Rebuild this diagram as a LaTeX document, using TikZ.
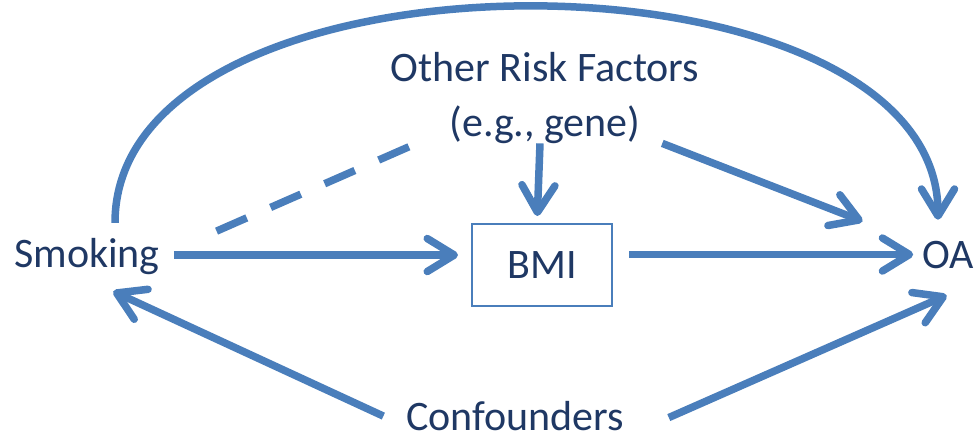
\documentclass[tikz,border=0pt]{standalone}
\usepackage{fontspec}
\setmainfont{Carlito}
\usetikzlibrary{arrows.meta}
\definecolor{arrblue}{HTML}{4A7EBB}
\definecolor{txtblue}{HTML}{1F3864}

\begin{document}
\begin{tikzpicture}[x=1pt,y=-1pt]
\tikzset{ >={Straight Barb[length=27pt,width=33pt,round]},
  lbl/.style={inner sep=0pt, outer sep=0pt, text=txtblue, font=\fontsize{42}{55}\selectfont},
  arr/.style={->, arrblue, line width=7.5pt},
}
\useasboundingbox (0,0) rectangle (980,441);

\node [lbl, anchor=base] (smk) at (87,267) {Smoking};
\node [lbl, anchor=base] (oa) at (948,268) {OA};
\node [lbl, draw=arrblue, line width=2pt, minimum width=140pt, minimum height=82pt] (bmi) at (542,265) {BMI};
\node [lbl, anchor=north, align=center] (orf) at (545,52) {Other Risk Factors\\(e.g., gene)};
\node [lbl, anchor=base] (conf) at (515,430) {Confounders};

% direct paths
\draw [arr, shorten <=14pt, shorten >=14pt] ([yshift=1pt]smk.east) -- ([yshift=1pt]smk.east -| bmi.west);
\draw [arr, shorten <=17pt, shorten >=9pt] (bmi.east |- oa.west) -- (oa.west);
\draw [arr, shorten >=8pt] ([xshift=-5pt]orf.south) -- ([xshift=-5pt]bmi.north);
\draw [arr, shorten >=64pt] (orf) -- (oa);

% smoking to OA, over the top
\draw [arr, shorten <=15pt, shorten >=21pt] ([xshift=28pt]smk.north) .. controls +(0,-304) and +(0,-304) .. ([xshift=-10pt]oa.north);

%\draw [dashed] (smk) -- (orf);
\draw [arrblue, line width=7.5pt, dash pattern=on 33pt off 26pt, shorten <=62pt, shorten >=3pt] (smk.east) -- ([xshift=26pt]orf.south west);

% confounders
\draw [arr, shorten <=25pt, shorten >=41pt] ([yshift=-11pt]conf.west) -- ([xshift=-11pt]smk.south);
\draw [arr, shorten <=49pt, shorten >=67pt] ([yshift=-7pt]conf.south east) -- ([xshift=60pt]oa.south);

\end{tikzpicture}
\end{document}
